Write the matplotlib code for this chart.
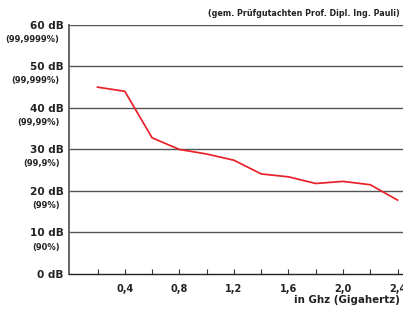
import matplotlib
matplotlib.use("Agg")
import matplotlib.pyplot as plt
import numpy as np

# Frequency (GHz) and shielding attenuation (dB)
freq = [0.2, 0.4, 0.6, 0.8, 1.0, 1.2, 1.4, 1.6, 1.8, 2.0, 2.2, 2.4]
atten = [45.0, 44.0, 32.8, 30.0, 28.9, 27.4, 24.1, 23.4, 21.8, 22.3, 21.5, 17.8]

db_ticks = [0, 10, 20, 30, 40, 50, 60]
db_labels = ["0 dB", "10 dB", "20 dB", "30 dB", "40 dB", "50 dB", "60 dB"]
pct_labels = ["", "(90%)", "(99%)", "(99,9%)", "(99,99%)", "(99,999%)", "(99,9999%)"]

x_major = [0.4, 0.8, 1.2, 1.6, 2.0, 2.4]
x_major_labels = ["0,4", "0,8", "1,2", "1,6", "2,0", "2,4"]
x_minor = [0.2, 0.6, 1.0, 1.4, 1.8, 2.2]

plt.rcParams['font.family'] = ['DejaVu Sans']

fig = plt.figure(figsize=(4.03, 3.11), dpi=100)
ax = fig.add_axes([0.171, 0.119, 0.829, 0.801])

for v in db_ticks[1:]:
    ax.axhline(v, color="#555555", lw=1.0, zorder=1)

ax.plot(freq, atten, color="#e8202a", lw=1.25, zorder=3)

ax.set_xlim(-0.01, 2.44)
ax.set_ylim(0, 60)

ax.set_yticks(db_ticks)
ax.set_yticklabels(db_labels, fontsize=7.6, fontweight="bold", color="#222222")
ax.tick_params(axis="y", length=0, pad=4)

for v, p in zip(db_ticks, pct_labels):
    if p:
        ax.text(-0.028, v - 3.5, p, transform=ax.get_yaxis_transform(),
                ha="right", va="center", fontsize=6.0, fontweight="bold",
                color="#222222")

ax.set_xticks(x_major)
ax.set_xticklabels(x_major_labels, fontsize=7, fontweight="bold", color="#222222")
ax.set_xticks(x_minor, minor=True)
ax.tick_params(axis="x", which="both", direction="in", length=3.5, width=0.8,
               color="#333333", pad=7)

ax.spines["top"].set_visible(False)
ax.spines["right"].set_visible(False)
ax.spines["left"].set_color("#666666")
ax.spines["left"].set_linewidth(1.4)
ax.spines["bottom"].set_color("#222222")
ax.spines["bottom"].set_linewidth(1.0)

fig.text(0.993, 0.018, "in Ghz (Gigahertz)", ha="right", va="bottom",
         fontsize=7.4, fontweight="bold", color="#222222")
fig.text(0.993, 0.955, "(gem. Prüfgutachten Prof. Dipl. Ing. Pauli)", ha="right",
         va="center", fontsize=5.8, fontweight="bold", color="#222222")

fig.savefig("out.png", dpi=100)
